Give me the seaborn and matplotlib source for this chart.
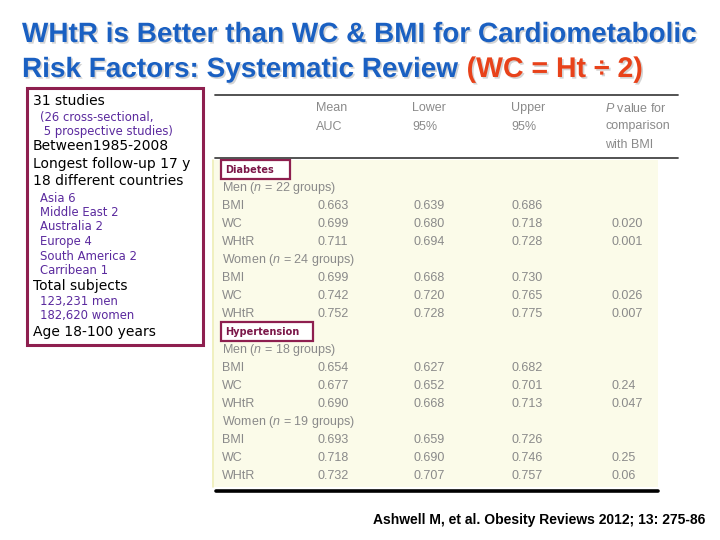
import matplotlib
matplotlib.use('Agg')
import numpy as np
import pandas as pd
import seaborn as sb
from matplotlib import pyplot as plt
from matplotlib import patches
import matplotlib.patheffects as pe

# ---- data ----
title_line1 = 'WHtR is Better than WC & BMI for Cardiometabolic'
title_line2 = 'Risk Factors: Systematic Review'
title_red = '(WC = Ht \u00f7 2)'

summary_lines = ['31 studies', '(26 cross-sectional,', ' 5 prospective studies)',
                 'Between1985-2008', 'Longest follow-up 17 y', '18 different countries',
                 'Asia 6', 'Middle East 2', 'Australia 2', 'Europe 4', 'South America 2',
                 'Carribean 1', 'Total subjects', '123,231 men', '182,620 women',
                 'Age 18-100 years']
summary_kinds = ['main', 'sub', 'sub', 'main', 'main', 'main', 'sub', 'sub', 'sub', 'sub',
                 'sub', 'sub', 'main', 'sub', 'sub', 'main']

header_lines = [['Mean', 'AUC'], ['Lower', '95%'], ['Upper', '95%'],
                ['$P$ value for', 'comparison', 'with BMI']]

outcomes = ['Diabetes', 'Hypertension']
groups = [['Men ($n$ = 22 groups)', 'Women ($n$ = 24 groups)'],
          ['Men ($n$ = 18 groups)', 'Women ($n$ = 19 groups)']]
measures = ['BMI', 'WC', 'WHtR']
mean_auc = [0.663, 0.699, 0.711, 0.699, 0.742, 0.752,
            0.654, 0.677, 0.690, 0.693, 0.718, 0.732]
lower_95 = [0.639, 0.680, 0.694, 0.668, 0.720, 0.728,
            0.627, 0.652, 0.668, 0.659, 0.690, 0.707]
upper_95 = [0.686, 0.718, 0.728, 0.730, 0.765, 0.775,
            0.682, 0.701, 0.713, 0.726, 0.746, 0.757]
p_values = ['', '0.020', '0.001', '', '0.026', '0.007',
            '', '0.24', '0.047', '', '0.25', '0.06']

citation = 'Ashwell M, et al. Obesity Reviews 2012; 13: 275-86'

# build table rows
rows = []
k = 0
for o, outcome in enumerate(outcomes):
    rows.append(['outcome', outcome, '', '', '', ''])
    for grp in groups[o]:
        rows.append(['group', grp, '', '', '', ''])
        for m in measures:
            rows.append(['value', m, f'{mean_auc[k]:.3f}', f'{lower_95[k]:.3f}',
                         f'{upper_95[k]:.3f}', p_values[k]])
            k += 1
table = pd.DataFrame(rows, columns=['kind', 'label', 'mean', 'lower', 'upper', 'p'])

# ---- style ----
sb.set_theme(style='white')
plt.rcParams['mathtext.fontset'] = 'custom'
plt.rcParams['mathtext.rm'] = 'Liberation Sans'
plt.rcParams['mathtext.it'] = 'Liberation Sans:italic'

blue = '#1a60c2'
red = '#e8421a'
maroon = '#8e1f4f'
purple = '#5b2a9e'
grey = '#8a8a8a'

fig = plt.figure(figsize=(7.2, 5.4), dpi=100)
ax = fig.add_axes([0, 0, 1, 1])
ax.set_xlim(0, 720)
ax.set_ylim(540, 0)
ax.axis('off')

# title
shadow = [pe.withSimplePatchShadow(offset=(1.2, -1.2), shadow_rgbFace='#a0a0a0', alpha=0.45)]
ax.text(22, 42, title_line1, color=blue, fontsize=20.1, fontweight='bold',
        family='Liberation Sans', va='baseline', path_effects=shadow)
t2 = ax.text(22, 77, title_line2, color=blue, fontsize=20.1, fontweight='bold',
             family='Liberation Sans', va='baseline', path_effects=shadow)
fig.canvas.draw()
bb = t2.get_window_extent()
x_end = ax.transData.inverted().transform((bb.x1, bb.y0))[0]
ax.text(x_end + 8, 77, title_red, color=red, fontsize=20.5, fontweight='bold',
        family='Liberation Sans', va='baseline', path_effects=shadow)

# left summary box
ax.add_patch(patches.Rectangle((27, 88), 176, 257, facecolor='white',
                               edgecolor=maroon, lw=2.2))
summary_y = [101, 117, 131, 146, 164, 181, 198, 212, 227, 241, 256, 270, 286, 302, 316, 332]
for txt, kind, y in zip(summary_lines, summary_kinds, summary_y):
    if kind == 'main':
        ax.text(33, y, txt, color='black', fontsize=10, family='DejaVu Sans', va='center')
    else:
        ax.text(40, y, txt, color=purple, fontsize=8.4, family='DejaVu Sans', va='center')

# table background and rules
ax.add_patch(patches.Rectangle((212, 160), 446, 327, facecolor='#fbfbe9',
                               edgecolor='none'))
ax.plot([212.5, 212.5], [160, 487], color='#eeeeb8', lw=1.2)
ax.plot([215, 678], [95, 95], color='#444444', lw=1.3)
ax.plot([215, 678], [158, 158], color='#444444', lw=1.3)
ax.plot([216, 658], [491, 491], color='black', lw=2.6)

col_x = [316, 412, 511, 605]
for cx, lines in zip(col_x, header_lines):
    for j, line in enumerate(lines):
        ax.text(cx, 108 + 18.5 * j, line, color=grey, fontsize=9,
                family='Liberation Sans', va='center')

row0, row_step = 170, 18.0
for i, r in table.iterrows():
    y = row0 + row_step * i
    if r['kind'] == 'outcome':
        w = 69 if r['label'] == 'Diabetes' else 92
        ax.add_patch(patches.Rectangle((221, y - 10), w, 19, facecolor='white',
                                       edgecolor=maroon, lw=1.6))
        ax.text(225, y, r['label'], color='#7b1648', fontsize=7, fontweight='bold',
                family='DejaVu Sans', va='center')
    else:
        ax.text(222, y, r['label'], color=grey, fontsize=9, family='Liberation Sans',
                va='center')
        for cx, col in zip([317, 413, 511, 611], ['mean', 'lower', 'upper', 'p']):
            ax.text(cx, y, r[col], color=grey, fontsize=9, family='Liberation Sans',
                    va='center')

ax.text(373, 520, citation, color='black', fontsize=10, fontweight='bold',
        family='Liberation Sans', va='center')

fig.savefig('out.png', dpi=100)
